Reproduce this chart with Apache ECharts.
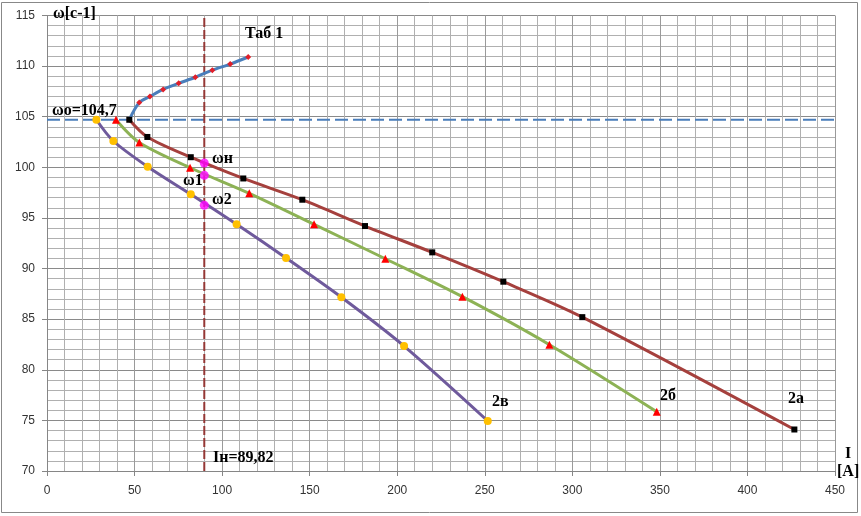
<!DOCTYPE html>
<html>
<head>
<meta charset="utf-8">
<script src="https://cdn.jsdelivr.net/npm/echarts@6/dist/echarts.min.js"></script>
<style>html,body{margin:0;padding:0;background:#fff;}#c{width:861px;height:516px;}</style>
</head>
<body>
<div id="c"></div>
<script>
// Tab 1 (blue)
const tab1I = [47.0, 52.7, 58.8, 66.3, 75.2, 84.7, 94.4, 104.6, 114.9];
const tab1W = [104.7, 106.4, 107.0, 107.7, 108.3, 108.9, 109.6, 110.2, 110.9];
// 2a (brown)
const a2I = [47.0, 57.3, 82.1, 112.1, 145.8, 181.6, 220.0, 260.6, 305.7, 426.8];
const a2W = [104.7, 103.0, 101.0, 98.9, 96.8, 94.2, 91.6, 88.7, 85.2, 74.1];
// 2b (green)
const b2I = [39.4, 52.7, 81.7, 115.5, 152.5, 193.2, 237.2, 286.9, 348.2];
const b2W = [104.7, 102.45, 99.96, 97.43, 94.37, 90.97, 87.22, 82.48, 75.86];
// 2v (purple)
const v2I = [28.2, 37.9, 57.5, 82.1, 108.3, 136.5, 168.1, 203.9, 251.7];
const v2W = [104.7, 102.6, 100.06, 97.34, 94.37, 91.04, 87.16, 82.34, 74.94];
// rated point values at In
const In = 89.82;
const ratedW = [100.43, 99.21, 96.25];
const w0 = 104.7;
const xTicks = [0, 450, 50];
const yTicks = [70, 115, 5];

const zip = (xs, ys) => xs.map((x, i) => [x, ys[i]]);
const chart = echarts.init(document.getElementById('c'));
const serif = '"Liberation Serif", "Times New Roman", serif';
const txt = (t, x, y, extra) => Object.assign({
  type: 'text', left: x, top: y, z: 100,
  style: { text: t, font: 'bold 16px ' + serif, fill: '#000' }
}, extra || {});

chart.setOption({
  animation: false,
  backgroundColor: '#fff',
  grid: { left: 47, right: 26, top: 15.5, bottom: 45 },
  xAxis: {
    type: 'value', min: xTicks[0], max: xTicks[1], interval: xTicks[2],
    axisLine: { onZero: false, lineStyle: { color: '#868686', width: 1 } },
    axisTick: { show: true, length: 5, lineStyle: { color: '#868686' } },
    axisLabel: { color: '#333', fontSize: 12, fontFamily: '"Liberation Sans", Arial, sans-serif', margin: 14 },
    splitLine: { show: true, lineStyle: { color: '#9a9a9a', width: 1 } },
    minorTick: { show: false, splitNumber: 5 },
    minorSplitLine: { show: true, lineStyle: { color: '#b0b0b0', width: 1 } }
  },
  yAxis: {
    type: 'value', min: yTicks[0], max: yTicks[1], interval: yTicks[2],
    axisLine: { show: true, onZero: false, lineStyle: { color: '#868686', width: 1 } },
    axisTick: { show: true, length: 5, lineStyle: { color: '#868686' } },
    axisLabel: { color: '#333', fontSize: 12, fontFamily: '"Liberation Sans", Arial, sans-serif', margin: 12 },
    splitLine: { show: true, lineStyle: { color: '#8a8a8a', width: 1 } },
    minorTick: { show: false, splitNumber: 5 },
    minorSplitLine: { show: true, lineStyle: { color: '#b0b0b0', width: 1 } }
  },
  series: [
    { type: 'line', data: [[xTicks[0], w0], [xTicks[1], w0]], symbol: 'none', silent: true,
      lineStyle: { color: '#4A7EBB', width: 2, type: [13, 5] }, z: 2 },
    { type: 'line', data: [[In, yTicks[0]], [In, yTicks[1]]], symbol: 'none', silent: true,
      lineStyle: { color: '#953735', width: 2, type: [9, 3] }, z: 2 },
    { type: 'line', data: zip(tab1I, tab1W), smooth: 0.3, symbol: 'diamond', symbolSize: 6,
      lineStyle: { color: '#4A7EBB', width: 3 }, itemStyle: { color: '#E0202A' }, z: 3 },
    { type: 'line', data: zip(a2I, a2W), smooth: 0.3, symbol: 'rect', symbolSize: 6,
      lineStyle: { color: '#A5403D', width: 3 }, itemStyle: { color: '#000' }, z: 4 },
    { type: 'line', data: zip(b2I, b2W), smooth: 0.3, symbol: 'triangle', symbolSize: 8,
      lineStyle: { color: '#8DB255', width: 3 }, itemStyle: { color: '#F00' }, z: 4 },
    { type: 'line', data: zip(v2I, v2W), smooth: 0.3, symbol: 'circle', symbolSize: 8,
      lineStyle: { color: '#6F5A9C', width: 3 }, itemStyle: { color: '#FFC000' }, z: 4 },
    { type: 'scatter', data: ratedW.map(w => [In, w]), symbol: 'circle', symbolSize: 9,
      itemStyle: { color: '#FF00FF' }, z: 6 }
  ],
  graphic: [
    { type: 'rect', shape: { x: 1.5, y: 2.5, width: 856, height: 510 },
      style: { fill: null, stroke: '#888', lineWidth: 1 }, z: 0, silent: true },
    txt('ω[c-1]', 53, 6),
    txt('Таб 1', 245, 26),
    txt('ωo=104,7', 52, 103),
    txt('ωн', 212, 151),
    txt('ω1', 183, 173),
    txt('ω2', 212, 192),
    txt('2в', 492, 394),
    txt('2б', 660, 388),
    txt('2а', 788, 391),
    txt('Iн=89,82', 213, 450),
    txt('I', 845, 446),
    txt('[A]', 837, 464)
  ]
});
</script>
</body>
</html>
